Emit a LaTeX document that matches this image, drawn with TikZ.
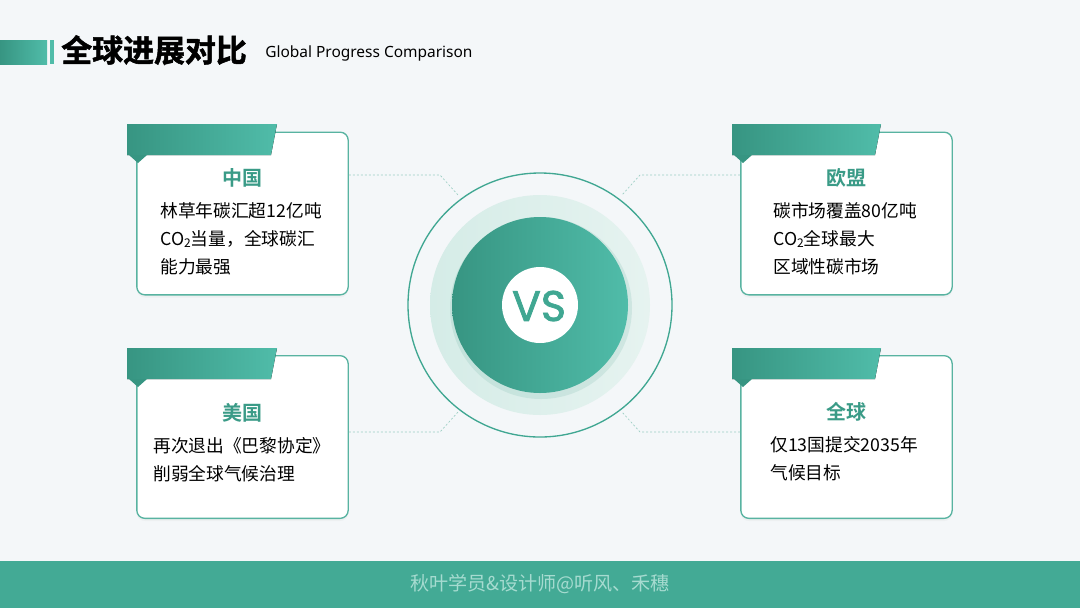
\documentclass[tikz,border=0pt]{standalone}
\usepackage{fontspec}
\setmainfont{Noto Sans CJK SC}[BoldFont={Noto Sans CJK SC Bold}]
\newfontfamily\heavyf{Noto Sans CJK SC Bold}[FakeBold=1.6]
\newfontfamily\latinf{Noto Sans}
\newfontfamily\vsfont{Poppins}[FakeBold=1.8]
\usetikzlibrary{shadows}
\definecolor{bgc}{HTML}{F4F7F9}
\definecolor{tealc}{HTML}{40A792}
\definecolor{tealdk}{HTML}{379582}
\definecolor{teallt}{HTML}{50BCA9}
\definecolor{cardline}{HTML}{58B3A1}
\definecolor{ringc}{HTML}{D5ECE7}
\definecolor{ringlt}{HTML}{E6F3F0}
\definecolor{headc}{HTML}{3A9B87}
\definecolor{footc}{HTML}{43AA95}
\definecolor{foottxt}{HTML}{A6DBD0}
\definecolor{dashc}{HTML}{9CCFC4}
\tikzset{
  card/.style={draw=cardline, line width=1pt, fill=white, rounded corners=6pt,
    inner sep=0pt, minimum width=158.5pt, minimum height=122pt,
    drop shadow={opacity=0.06, shadow xshift=0pt, shadow yshift=-2pt}},
  tabshape/.style={left color=tealdk, right color=teallt},
  headtxt/.style={text=headc, font=\bfseries\fontsize{15}{18}\selectfont, inner sep=0pt},
  bodytxt/.style={text=black, font=\fontsize{13.3}{16}\selectfont, inner sep=0pt, anchor=west},
  conn/.style={draw=dashc, line width=0.5pt, dash pattern=on 1.5pt off 1.5pt},
}
\newcommand{\cotwo}{CO\raisebox{-0.3ex}{\fontsize{9}{10}\selectfont 2}}
\begin{document}
\begin{tikzpicture}[x=0.75pt,y=-0.75pt]
\useasboundingbox (0,0) rectangle (1080,608);
\fill[bgc] (0,0) rectangle (1080,608);
% header
\fill[left color=tealdk, right color=teallt] (0,40) rectangle (47,64);
\fill[teallt] (50,40) rectangle (54,64);
\node[anchor=west, inner sep=0pt, font=\heavyf\fontsize{23.2}{26}\selectfont] (title) at (61,50) {全球进展对比};
\node[anchor=west, inner sep=0pt, font=\latinf\fontsize{11.6}{13}\selectfont] (subtitle) at (265,53) {Global Progress Comparison};
% central circles
\coordinate (ctr) at (540,305);
\draw[tealc, line width=1pt] (ctr) circle[radius=132];
\shade[left color=ringc, right color=ringlt] (ctr) circle[radius=110];
\fill[tealdk, opacity=0.12] (541,308) circle[radius=91];
\shade[left color=tealdk, right color=teallt] (ctr) circle[radius=88];
\node[circle, fill=white, minimum size=57pt, inner sep=0pt] (vs) at (ctr) {};
\node[text=tealc, font=\vsfont\fontsize{32}{36}\selectfont, inner sep=0pt] (vstxt) at (539,306) {VS};
% cards
\node[card] (cnCard) at (242.5,213.5) {};
\node[card] (euCard) at (846.5,213.5) {};
\node[card] (usCard) at (242.5,437) {};
\node[card] (glCard) at (846.5,437) {};
% tabs
\fill[tabshape] (127,124) -- (277,124) -- (271,155) -- (127,155) -- cycle;
\fill[tealdk] (129,155) -- (147,155) -- (138,163) -- cycle;
\fill[tabshape] (732,124) -- (881,124) -- (875,155) -- (732,155) -- cycle;
\fill[tealdk] (734,155) -- (752,155) -- (743,163) -- cycle;
\fill[tabshape] (127,348) -- (277,348) -- (271,379) -- (127,379) -- cycle;
\fill[tealdk] (129,379) -- (147,379) -- (138,387) -- cycle;
\fill[tabshape] (732,348) -- (881,348) -- (875,379) -- (732,379) -- cycle;
\fill[tealdk] (734,379) -- (752,379) -- (743,387) -- cycle;
% connectors
\coordinate (k1) at (440,175); \coordinate (k1e) at (458,195);
\coordinate (k2) at (640,175); \coordinate (k2e) at (622,195);
\coordinate (k3) at (440,432); \coordinate (k3e) at (458,412);
\coordinate (k4) at (640,432); \coordinate (k4e) at (622,412);
\draw[conn] (cnCard.east |- k1) -- (k1) -- (k1e);
\draw[conn] (euCard.west |- k2) -- (k2) -- (k2e);
\draw[conn] (usCard.east |- k3) -- (k3) -- (k3e);
\draw[conn] (glCard.west |- k4) -- (k4) -- (k4e);
% texts China
\node[headtxt] (cnH) at (242.5,178) {中国};
\node[bodytxt] (cn1) at (160,211) {林草年碳汇超12亿吨};
\node[bodytxt] (cn2) at (160,239) {\cotwo 当量，全球碳汇};
\node[bodytxt] (cn3) at (160,267) {能力最强};
% EU
\node[headtxt] (euH) at (846.5,178) {欧盟};
\node[bodytxt] (eu1) at (773,211) {碳市场覆盖80亿吨};
\node[bodytxt] (eu2) at (773,239) {\cotwo 全球最大};
\node[bodytxt] (eu3) at (773,267) {区域性碳市场};
% US
\node[headtxt] (usH) at (242.5,413) {美国};
\node[bodytxt] (us1) at (153,446) {再次退出《巴黎协定》};
\node[bodytxt] (us2) at (153,474) {削弱全球气候治理};
% Global
\node[headtxt] (glH) at (846.5,412) {全球};
\node[bodytxt] (gl1) at (770,445) {仅13国提交2035年};
\node[bodytxt] (gl2) at (770,473) {气候目标};
% footer
\fill[footc] (0,561) rectangle (1080,608);
\node[text=foottxt, font=\fontsize{14.3}{17}\selectfont, inner sep=0pt] (foot) at (540,584) {秋叶学员\&设计师@听风、禾穗};
\end{tikzpicture}
\end{document}
